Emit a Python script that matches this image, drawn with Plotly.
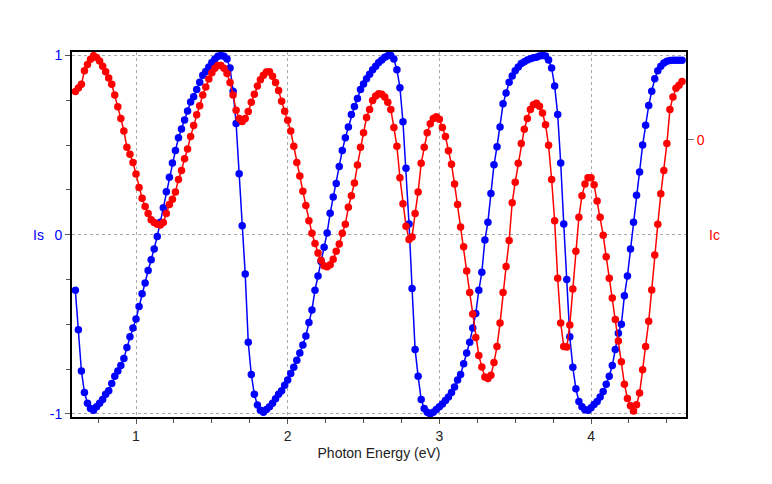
import plotly.graph_objects as go

energy = [0.60, 0.62, 0.64, 0.66, 0.68, 0.70, 0.72, 0.74, 0.76, 0.78,
          0.80, 0.82, 0.84, 0.86, 0.88, 0.90, 0.92, 0.94, 0.96, 0.98,
          1.00, 1.02, 1.04, 1.06, 1.08, 1.10, 1.12, 1.14, 1.16, 1.18,
          1.20, 1.22, 1.24, 1.26, 1.28, 1.30, 1.32, 1.34, 1.36, 1.38,
          1.40, 1.42, 1.44, 1.46, 1.48, 1.50, 1.52, 1.54, 1.56, 1.58,
          1.60, 1.62, 1.64, 1.66, 1.68, 1.70, 1.72, 1.74, 1.76, 1.78,
          1.80, 1.82, 1.84, 1.86, 1.88, 1.90, 1.92, 1.94, 1.96, 1.98,
          2.00, 2.02, 2.04, 2.06, 2.08, 2.10, 2.12, 2.14, 2.16, 2.18,
          2.20, 2.22, 2.24, 2.26, 2.28, 2.30, 2.32, 2.34, 2.36, 2.38,
          2.40, 2.42, 2.44, 2.46, 2.48, 2.50, 2.52, 2.54, 2.56, 2.58,
          2.60, 2.62, 2.64, 2.66, 2.68, 2.70, 2.72, 2.74, 2.76, 2.78,
          2.80, 2.82, 2.84, 2.86, 2.88, 2.90, 2.92, 2.94, 2.96, 2.98,
          3.00, 3.02, 3.04, 3.06, 3.08, 3.10, 3.12, 3.14, 3.16, 3.18,
          3.20, 3.22, 3.24, 3.26, 3.28, 3.30, 3.32, 3.34, 3.36, 3.38,
          3.40, 3.42, 3.44, 3.46, 3.48, 3.50, 3.52, 3.54, 3.56, 3.58,
          3.60, 3.62, 3.64, 3.66, 3.68, 3.70, 3.72, 3.74, 3.76, 3.78,
          3.80, 3.82, 3.84, 3.86, 3.88, 3.90, 3.92, 3.94, 3.96, 3.98,
          4.00, 4.02, 4.04, 4.06, 4.08, 4.10, 4.12, 4.14, 4.16, 4.18,
          4.20, 4.22, 4.24, 4.26, 4.28, 4.30, 4.32, 4.34, 4.36, 4.38,
          4.40, 4.42, 4.44, 4.46, 4.48, 4.50, 4.52, 4.54, 4.56, 4.58,
          4.60]

Is = [-0.31, -0.53, -0.76, -0.88, -0.94, -0.97, -0.98, -0.96, -0.94, -0.92,
      -0.89, -0.87, -0.83, -0.79, -0.76, -0.73, -0.69, -0.63, -0.57, -0.52,
      -0.47, -0.40, -0.33, -0.27, -0.20, -0.14, -0.08, -0.01, 0.07, 0.15,
      0.24, 0.32, 0.40, 0.47, 0.54, 0.59, 0.64, 0.69, 0.74, 0.77,
      0.81, 0.85, 0.89, 0.91, 0.935, 0.96, 0.98, 0.995, 1.0, 0.995,
      0.98, 0.93, 0.80, 0.62, 0.34, 0.05, -0.22, -0.60, -0.78, -0.89,
      -0.95, -0.98, -0.99, -0.975, -0.96, -0.94, -0.915, -0.89, -0.87, -0.84,
      -0.81, -0.775, -0.74, -0.70, -0.66, -0.615, -0.565, -0.49, -0.42, -0.31,
      -0.23, -0.15, -0.07, 0.01, 0.12, 0.21, 0.285, 0.38, 0.47, 0.54,
      0.60, 0.67, 0.715, 0.76, 0.81, 0.84, 0.87, 0.895, 0.92, 0.94,
      0.96, 0.975, 0.99, 0.998, 1.0, 0.98, 0.92, 0.82, 0.63, 0.37,
      0.06, -0.30, -0.64, -0.79, -0.92, -0.97, -0.99, -1.0, -0.99, -0.975,
      -0.96, -0.945, -0.925, -0.905, -0.88, -0.85, -0.81, -0.78, -0.72, -0.66,
      -0.60, -0.52, -0.44, -0.31, -0.21, -0.03, 0.07, 0.23, 0.39, 0.49,
      0.60, 0.73, 0.79, 0.85, 0.885, 0.915, 0.935, 0.955, 0.965, 0.975,
      0.982, 0.987, 0.99, 0.996, 1.0, 0.997, 0.975, 0.93, 0.83, 0.67,
      0.40, 0.06, -0.25, -0.57, -0.74, -0.86, -0.93, -0.96, -0.977, -0.98,
      -0.965, -0.947, -0.93, -0.905, -0.875, -0.835, -0.79, -0.73, -0.64, -0.55,
      -0.50, -0.34, -0.23, -0.08, 0.07, 0.22, 0.35, 0.50, 0.61, 0.72,
      0.80, 0.87, 0.915, 0.94, 0.957, 0.967, 0.972, 0.973, 0.973, 0.973,
      0.973]

Ic = [0.27, 0.29, 0.31, 0.385, 0.42, 0.45, 0.47, 0.46, 0.44, 0.41,
      0.38, 0.345, 0.31, 0.25, 0.185, 0.12, 0.05, -0.04, -0.08, -0.125,
      -0.19, -0.265, -0.325, -0.37, -0.41, -0.445, -0.46, -0.47, -0.474, -0.46,
      -0.41, -0.36, -0.33, -0.29, -0.22, -0.17, -0.105, -0.05, 0.02, 0.08,
      0.14, 0.19, 0.25, 0.295, 0.34, 0.375, 0.40, 0.415, 0.415, 0.40,
      0.37, 0.32, 0.25, 0.165, 0.12, 0.103, 0.12, 0.158, 0.21, 0.255,
      0.30, 0.335, 0.36, 0.378, 0.38, 0.355, 0.32, 0.275, 0.215, 0.16,
      0.11, 0.05, -0.035, -0.125, -0.20, -0.285, -0.365, -0.45, -0.52, -0.576,
      -0.63, -0.67, -0.70, -0.706, -0.695, -0.665, -0.62, -0.58, -0.52, -0.47,
      -0.375, -0.31, -0.24, -0.14, -0.04, 0.04, 0.125, 0.17, 0.22, 0.245,
      0.258, 0.255, 0.24, 0.21, 0.17, 0.07, -0.035, -0.21, -0.355, -0.48,
      -0.555, -0.54, -0.41, -0.29, -0.13, -0.04, 0.04, 0.09, 0.12, 0.13,
      0.115, 0.07, 0.02, -0.06, -0.135, -0.245, -0.36, -0.485, -0.595, -0.73,
      -0.85, -0.97, -1.10, -1.20, -1.265, -1.32, -1.328, -1.31, -1.24, -1.15,
      -1.02, -0.85, -0.705, -0.56, -0.35, -0.235, -0.13, -0.02, 0.06, 0.12,
      0.17, 0.196, 0.204, 0.188, 0.15, 0.085, -0.03, -0.22, -0.45, -0.77,
      -1.02, -1.15, -1.153, -1.03, -0.83, -0.62, -0.43, -0.31, -0.245, -0.21,
      -0.21, -0.25, -0.34, -0.43, -0.53, -0.65, -0.77, -0.88, -1.00, -1.12,
      -1.235, -1.36, -1.44, -1.48, -1.51, -1.475, -1.41, -1.28, -1.15, -1.01,
      -0.835, -0.64, -0.47, -0.30, -0.17, -0.02, 0.17, 0.24, 0.288, 0.305,
      0.325]

x_ticks = [1, 2, 3, 4]
is_ticks = [-1, 0, 1]
ic_ticks = [0]

BLUE = "#0000ff"
RED = "#ff0000"
FONT = "Liberation Sans, Arial, sans-serif"

fig = go.Figure()
fig.add_trace(go.Scatter(
    x=energy, y=Is, mode="lines+markers", name="Is",
    line=dict(color=BLUE, width=1.5),
    marker=dict(color=BLUE, size=7.5),
    yaxis="y", showlegend=False,
))
fig.add_trace(go.Scatter(
    x=energy, y=Ic, mode="lines+markers", name="Ic",
    line=dict(color=RED, width=1.5),
    marker=dict(color=RED, size=7.5),
    yaxis="y2", showlegend=False,
))

fig.update_layout(
    width=764, height=476,
    margin=dict(l=64, r=86, t=44, b=67),
    paper_bgcolor="white", plot_bgcolor="white",
    font=dict(family=FONT, size=14, color="#222222"),
    xaxis=dict(
        range=[0.578, 4.626], tickvals=x_ticks, ticktext=[str(v) for v in x_ticks],
        showline=True, linecolor="black", linewidth=2, mirror=True,
        ticks="outside", ticklen=5, tickcolor="#555555",
        showgrid=True, gridcolor="#aaaaaa", griddash="dot", gridwidth=1,
        zeroline=False, automargin=False,
        minor=dict(dtick=0.25, tick0=0, ticks="outside", ticklen=4, tickcolor="#555555", showgrid=False),
        title=dict(text="Photon Energy (eV)", font=dict(size=14, color="#222222"), standoff=5),
        tickfont=dict(size=14, color="#222222"),
    ),
    yaxis=dict(
        range=[-1.017, 1.019], tickvals=is_ticks, ticktext=[str(v) for v in is_ticks],
        showline=True, linecolor="black", linewidth=2, mirror=True,
        ticks="outside", ticklen=5, tickcolor="#555555",
        showgrid=True, gridcolor="#aaaaaa", griddash="dot", gridwidth=1,
        zeroline=False, automargin=False,
        minor=dict(dtick=0.25, tick0=0, ticks="outside", ticklen=4, tickcolor="#555555", showgrid=False),
        tickfont=dict(size=14, color=BLUE),
    ),
    yaxis2=dict(
        overlaying="y", side="right",
        range=[-1.543, 0.490], tickvals=ic_ticks, ticktext=[str(v) for v in ic_ticks],
        showline=True, linecolor="black", linewidth=2,
        ticks="outside", ticklen=6, tickcolor="#777777",
        showgrid=False, zeroline=False, automargin=False,
        tickfont=dict(size=14, color=RED),
    ),
    annotations=[
        dict(text="Is", xref="paper", yref="paper", x=-0.042, y=0.5, xanchor="right",
             yanchor="middle", showarrow=False, font=dict(size=14, color=BLUE)),
        dict(text="Ic", xref="paper", yref="paper", x=1.034, y=0.5, xanchor="left",
             yanchor="middle", showarrow=False, font=dict(size=14, color=RED)),
    ],
)

fig.write_html("out.html")
